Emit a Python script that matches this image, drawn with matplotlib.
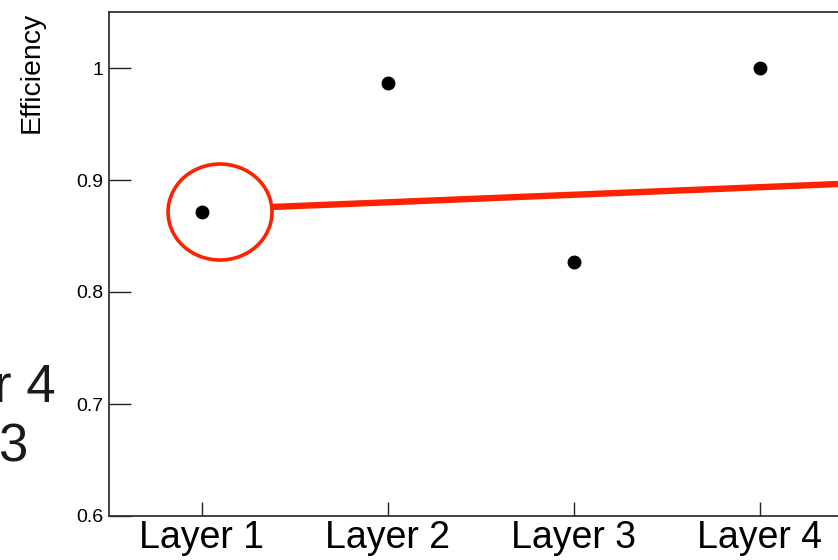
import matplotlib.pyplot as plt
from matplotlib.patches import Ellipse

plt.rcParams["font.family"] = ["Liberation Sans", "DejaVu Sans"]

# per-layer efficiency
layers = ["Layer 1", "Layer 2", "Layer 3", "Layer 4"]
positions = [1, 2, 3, 4]
efficiency = [0.871, 0.987, 0.827, 1.000]
y_ticks = [0.6, 0.7, 0.8, 0.9, 1.0]
y_tick_labels = ["0.6", "0.7", "0.8", "0.9", "1"]

# highlight around the first layer and the callout line leaving it
ring_center = (1.097, 0.8714)
ring_size = (0.559, 0.0857)
callout_x = [1.376, 4.42]
callout_y = [0.8759, 0.8964]

RED = "#ff2200"

fig = plt.figure(figsize=(8.38, 5.6), dpi=100)
ax = fig.add_axes([109 / 838, 44 / 560, 1 - 109 / 838, 504 / 560])

ax.plot(positions, efficiency, "o", color="black", markersize=9, zorder=3)

ax.add_patch(Ellipse(ring_center, ring_size[0], ring_size[1], fill=False,
                     edgecolor=RED, linewidth=2.6, zorder=4))
ax.plot(callout_x, callout_y, color=RED, linewidth=4.6, solid_capstyle="butt", zorder=4)

ax.set_xlim(0.5, 4.42)
ax.set_ylim(0.6, 1.05)
ax.set_xticks(positions)
ax.set_xticklabels(layers, fontsize=27)
ax.set_yticks(y_ticks)
ax.set_yticklabels(y_tick_labels, fontsize=14)
ax.tick_params(axis="y", direction="in", length=16, width=1.0, pad=4, colors="#222222")
ax.tick_params(axis="x", direction="in", length=10, width=1.0, pad=3, colors="#222222")
for lab in ax.get_xticklabels() + ax.get_yticklabels():
    lab.set_color("black")

for side in ("left", "bottom", "top"):
    ax.spines[side].set_linewidth(1.3)
    ax.spines[side].set_color("#333333")
ax.spines["right"].set_visible(False)

fig.text(32 / 838, 1 - 12 / 560, "Efficiency", rotation=90, ha="center", va="top",
         fontsize=20.5)

# clipped pieces of larger labels on the left margin
fig.text(56 / 838, 1 - 402 / 560, "r 4", ha="right", va="baseline", fontsize=38,
         color="#1a1a1a")
fig.text(27 / 838, 1 - 462 / 560, "3", ha="right", va="baseline", fontsize=38,
         color="#1a1a1a")

fig.savefig("out.png", dpi=100, facecolor="white")
